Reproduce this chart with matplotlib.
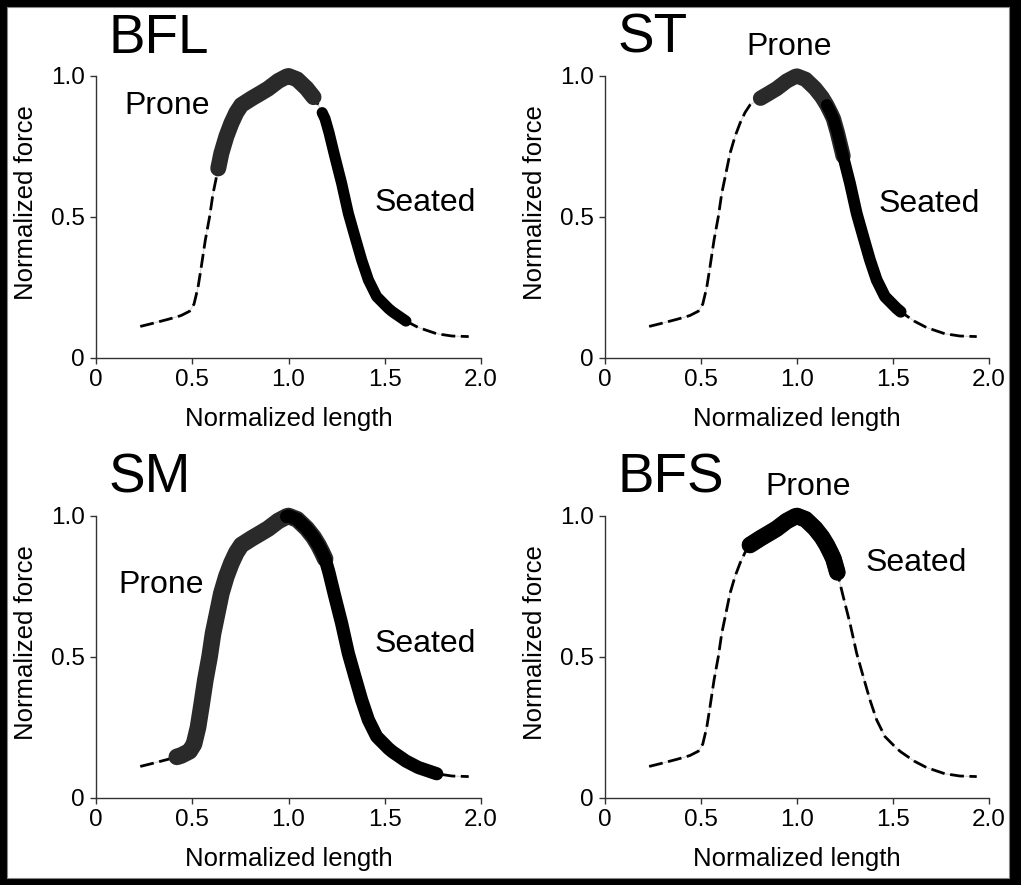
import numpy as np
import matplotlib
matplotlib.use("Agg")
import matplotlib.pyplot as plt
from matplotlib.patches import Rectangle

plt.rcParams['font.family'] = ['Liberation Sans', 'DejaVu Sans']
plt.rcParams['lines.scale_dashes'] = False

# ---- data -------------------------------------------------------------
# common normalized force-length curve
curve_x = [0.23, 0.295, 0.373, 0.42, 0.443, 0.486, 0.509, 0.530, 0.547, 0.568,
           0.590, 0.608, 0.635, 0.651, 0.677, 0.703, 0.729, 0.755, 0.81, 0.85,
           0.894, 0.946, 0.99, 1.0, 1.045, 1.094, 1.13, 1.155, 1.175, 1.19,
           1.21, 1.24, 1.276, 1.311, 1.345, 1.38, 1.415, 1.458, 1.519, 1.54,
           1.589, 1.61, 1.675, 1.77, 1.849, 1.936]
curve_y = [0.111, 0.122, 0.136, 0.145, 0.150, 0.165, 0.190, 0.250, 0.323, 0.418,
           0.500, 0.583, 0.672, 0.725, 0.785, 0.832, 0.870, 0.897, 0.921, 0.937,
           0.955, 0.982, 0.998, 1.000, 0.988, 0.956, 0.925, 0.897, 0.870, 0.848,
           0.800, 0.716, 0.619, 0.512, 0.430, 0.347, 0.276, 0.217, 0.175, 0.163,
           0.140, 0.130, 0.107, 0.085, 0.077, 0.075]

muscles = ['BFL', 'ST', 'SM', 'BFS']
prone_ranges = [(0.635, 1.13), (0.81, 1.24), (0.42, 1.19), (0.755, 1.21)]
seated_ranges = [(1.175, 1.61), (1.155, 1.54), (0.99, 1.77), (0.755, 1.21)]

x_ticks = [0, 0.5, 1.0, 1.5, 2.0]
x_tick_labels = ['0', '0.5', '1.0', '1.5', '2.0']
y_ticks = [0, 0.5, 1.0]
y_tick_labels = ['0', '0.5', '1.0']

# ---- layout (pixels of a 1021x885 image) ------------------------------
W, H = 1021, 885
axes_px = [(96, 76, 481, 357.7), (605, 76, 989, 357.7),
           (96, 516, 481, 797.7), (605, 516, 989, 797.7)]
title_pos = [(0.065, 1.082), (0.065, 1.082), (0.065, 1.082), (0.065, 1.082)]
prone_pos = [(0.145, 0.864), (0.735, 1.075), (0.115, 0.728), (0.834, 1.075)]
seated_pos = [(1.445, 0.522), (1.427, 0.518), (1.445, 0.516), (1.355, 0.805)]
prone_lw = [11.5, 11.0, 12.0, 12.0]
seated_lw = [8.0, 8.5, 9.5, 11.5]
prone_col = ['#2a2a2a', '#2a2a2a', '#2a2a2a', '#111111']

fig = plt.figure(figsize=(W / 100, H / 100), dpi=100, facecolor='black')
fig.add_artist(Rectangle((7 / W, 1 - 878 / H), (1009 - 7) / W, (878 - 7) / H,
                         transform=fig.transFigure, facecolor='white',
                         edgecolor='#888888', lw=0.8, zorder=-10))

cx = np.array(curve_x)
cy = np.array(curve_y)

for i, name in enumerate(muscles):
    x0, y0, x1, y1 = axes_px[i]
    ax = fig.add_axes([x0 / W, 1 - y1 / H, (x1 - x0) / W, (y1 - y0) / H])
    ax.set_facecolor('none')
    ax.set_xlim(0, 2.0)
    ax.set_ylim(0, 1.0)
    for s in ['top', 'right']:
        ax.spines[s].set_visible(False)
    for s in ['left', 'bottom']:
        ax.spines[s].set_color('#333333')
        ax.spines[s].set_linewidth(1.0)
    ax.set_xticks(x_ticks)
    ax.set_xticklabels(x_tick_labels)
    ax.set_yticks(y_ticks)
    ax.set_yticklabels(y_tick_labels)
    ax.tick_params(direction='out', length=4, width=1, color='#333333',
                   labelsize=17.5, labelcolor='black', pad=4)

    # faint connecting line + dashed full curve
    ax.plot(cx, cy, color='#c8c8c8', lw=0.6, clip_on=False, zorder=1)
    ax.plot(cx, cy, color='black', lw=2.0, dashes=(10.0, 4.0),
            clip_on=False, zorder=2)

    pr = prone_ranges[i]
    m = (cx >= pr[0] - 1e-9) & (cx <= pr[1] + 1e-9)
    ax.plot(cx[m], cy[m], color=prone_col[i], lw=prone_lw[i],
            solid_capstyle='round', solid_joinstyle='round',
            clip_on=False, zorder=3)
    sr = seated_ranges[i]
    m = (cx >= sr[0] - 1e-9) & (cx <= sr[1] + 1e-9)
    ax.plot(cx[m], cy[m], color='black', lw=seated_lw[i],
            solid_capstyle='round', solid_joinstyle='round',
            clip_on=False, zorder=4)

    ax.text(title_pos[i][0], title_pos[i][1], name, fontsize=39.5,
            ha='left', va='baseline', clip_on=False)
    ax.text(prone_pos[i][0], prone_pos[i][1], 'Prone', fontsize=23,
            ha='left', va='baseline', clip_on=False)
    ax.text(seated_pos[i][0], seated_pos[i][1], 'Seated', fontsize=23,
            ha='left', va='baseline', clip_on=False)

    ax.set_xlabel('Normalized length', fontsize=18.5)
    ax.set_ylabel('Normalized force', fontsize=18.5)
    ax.xaxis.set_label_coords(0.5, -0.175)
    ax.yaxis.set_label_coords(-0.15, 0.55)

fig.savefig('out.png', dpi=100, facecolor='black')
